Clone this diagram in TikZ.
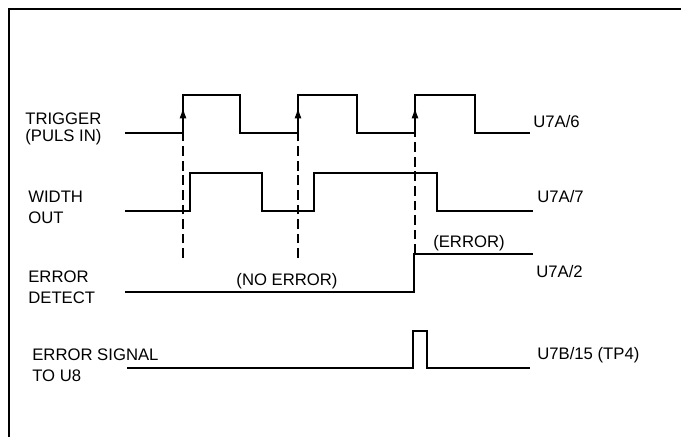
\documentclass[tikz,border=0pt]{standalone}
\usepackage{fontspec}
\setmainfont{Liberation Sans}
\usetikzlibrary{arrows.meta}

\begin{document}
\begin{tikzpicture}[x=0.02cm, y=-0.02cm, font=\fontsize{9.5}{12}\selectfont, >={Latex[length=6.5pt,width=4pt]},
    wave/.style={line width=1.1pt, line join=miter},
    marker/.style={line width=1pt, dash pattern=on 5.5pt off 2.8pt},
    lbl/.style={anchor=west, align=left, inner sep=0pt}]
  \useasboundingbox (0,0) rectangle (681,437);
  % frame
  \draw[line width=1.4pt] (681,9) -- (9,9) -- (9,437);
  % waveforms
  \draw[wave] (125,133) -- (183,133) -- (183,95) -- (240,95) -- (240,133) -- (298,133) -- (298,95)
    -- (357,95) -- (357,133) -- (415,133) -- (415,95) -- (475,95) -- (475,133) -- (530,133);
  \draw[wave] (125,211) -- (190,211) -- (190,173) -- (262,173) -- (262,211) -- (314,211) -- (314,173)
    -- (437,173) -- (437,211) -- (533,211);
  \draw[wave] (125,292) -- (414,292) -- (414,254) -- (533,254);
  \draw[wave] (127,368) -- (413,368) -- (413,331) -- (427,331) -- (427,368) -- (530,368);
  % trigger edges
  \draw[marker] (183,258) -- (183,133);
  \draw[marker] (298,258) -- (298,133);
  \draw[marker] (415,254) -- (415,133);
  \draw[->, line width=1pt] (183,126) -- (183,107);
  \draw[->, line width=1pt] (298,126) -- (298,107);
  \draw[->, line width=1pt] (415,126) -- (415,107);
  % signal names
  \node[lbl] (trig) at (25,129) {TRIGGER\\[-2.6pt](PULS IN)};
  \node[lbl] (width) at (28,207) {WIDTH\\OUT};
  \node[lbl] (detect) at (28,287) {ERROR\\DETECT};
  \node[lbl] (signal) at (32,365.5) {ERROR SIGNAL\\TO U8};
  \node[lbl] (pin6) at (533,122) {U7A/6};
  \node[lbl] (pin7) at (537,197) {U7A/7};
  \node[lbl] (pin2) at (536,272) {U7A/2};
  \node[lbl] (tp4) at (537,355) {U7B/15 (TP4)};
  \node (noerr) at (287,281) {(NO ERROR)};
  \node (err) at (469,243) {(ERROR)};
\end{tikzpicture}
\end{document}
